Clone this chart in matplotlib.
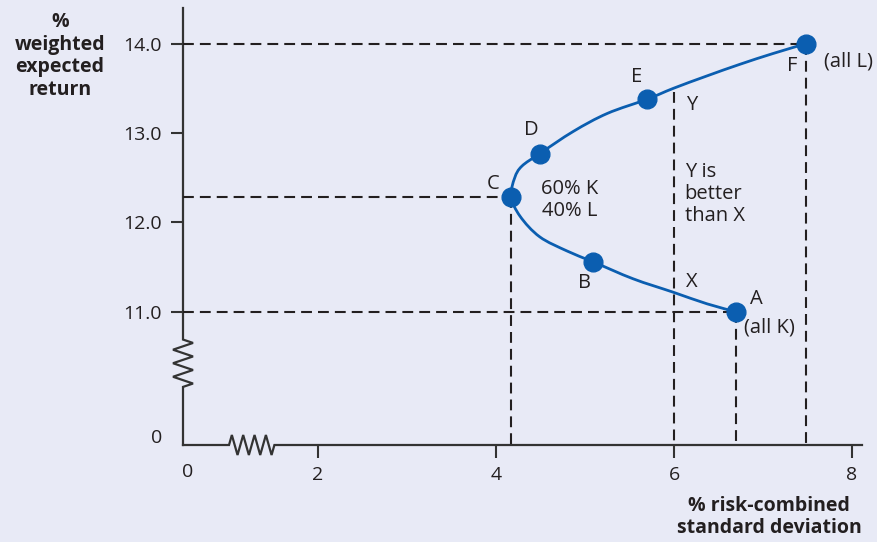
import matplotlib
matplotlib.use("Agg")
import matplotlib.pyplot as plt
from matplotlib.path import Path
from matplotlib.patches import PathPatch

# frontier, going from A (all K) round to F (all L)
curve_sd = [6.70, 6.37, 5.99, 5.54, 5.09, 4.80, 4.49, 4.27, 4.17, 4.21, 4.29,
            4.49, 4.87, 5.25, 5.70, 5.99, 6.37, 6.74, 7.11, 7.48]
curve_ret = [11.0, 11.09, 11.22, 11.37, 11.56, 11.68, 11.84, 12.07, 12.29, 12.50, 12.63,
             12.77, 13.02, 13.22, 13.38, 13.50, 13.64, 13.77, 13.89, 14.0]

point_names = ["A", "B", "C", "D", "E", "F"]
point_sd = [6.70, 5.09, 4.17, 4.49, 5.70, 7.48]
point_ret = [11.0, 11.56, 12.29, 12.77, 13.38, 14.0]

# the X / Y comparison at sd = 6
xy_sd = 6.0
y_ret = 13.46

x_ticks = [2, 4, 6, 8]
x_labels = ["2", "4", "6", "8"]
y_ticks = [11.0, 12.0, 13.0, 14.0]
y_labels = ["11.0", "12.0", "13.0", "14.0"]

BG = "#e8eaf6"
INK = "#231f20"
BLUE = "#0b5eb0"
FS = 14.5

plt.rcParams["font.family"] = ["Open Sans", "DejaVu Sans"]

fig = plt.figure(figsize=(8.78, 5.42), dpi=100, facecolor=BG)
W, H = 878, 542
# axes box in pixels: left 183, right 862, top 8, bottom 445
ax = fig.add_axes([183 / W, 1 - 445 / H, (862 - 183) / W, (445 - 8) / H])
ax.set_facecolor(BG)

x0, x1 = 0.483, 8.112   # broken axes: the corner is the fake "0"
y0, y1 = 9.51, 14.40
ax.set_xlim(x0, x1)
ax.set_ylim(y0, y1)
for s in ax.spines.values():
    s.set_visible(False)

ax.set_xticks(x_ticks)
ax.set_xticklabels(x_labels)
ax.set_yticks(y_ticks)
ax.set_yticklabels(y_labels)
ax.tick_params(length=9, width=1.5, color="#333333", labelsize=14,
               labelcolor=INK, pad=6)

# axis lines with the zigzag breaks
px_x = 1 / 89.0
px_y = 1 / 89.3
amp = 10


def zig_v(xc, ya, yb, n=7):
    xs, ys = [xc], [ya]
    for i in range(n):
        xs.append(xc + (amp if i % 2 == 0 else -amp) * px_x)
        ys.append(ya - (i + 0.5) * (ya - yb) / n)
    xs.append(xc)
    ys.append(yb)
    return xs, ys


def zig_h(yc, xa, xb, n=8):
    xs, ys = [xa], [yc]
    for i in range(n):
        xs.append(xa + (i + 0.5) * (xb - xa) / n)
        ys.append(yc + (amp if i % 2 == 0 else -amp) * px_y)
    xs.append(xb)
    ys.append(yc)
    return xs, ys


axis_kw = dict(color="#333333", lw=1.6, clip_on=False, solid_joinstyle="miter")
zx, zy = zig_v(x0, 10.69, 10.16)
ax.plot([x0, x0] + zx + [x0, x0], [y1, 10.69] + zy + [10.16, y0], **axis_kw)
hx, hy = zig_h(y0, 1.00, 1.51)
ax.plot([x0, 1.00] + hx + [1.51, x1], [y0, y0] + hy + [y0, y0], **axis_kw)

ax.text(x0 - 26 * px_x, y0 + 7 * px_y, "0", fontsize=14, color=INK,
        ha="center", va="center")
ax.text(x0 + 5 * px_x, y0 - 27 * px_y, "0", fontsize=14, color=INK,
        ha="center", va="center")

# dashed guides
dash = dict(color=INK, lw=1.5, dashes=(5.2, 2.9), zorder=2)
for name in ["A", "C", "F"]:
    i = point_names.index(name)
    ax.plot([x0, point_sd[i]], [point_ret[i], point_ret[i]], **dash)
    ax.plot([point_sd[i], point_sd[i]], [point_ret[i], y0], **dash)
ax.plot([xy_sd, xy_sd], [y_ret, y0], **dash)

# frontier: smooth bezier through the read points (catmull-rom handles)
pts = list(zip(curve_sd, curve_ret))
verts = [pts[0]]
codes = [Path.MOVETO]
for i in range(len(pts) - 1):
    p0 = pts[max(i - 1, 0)]
    p1 = pts[i]
    p2 = pts[i + 1]
    p3 = pts[min(i + 2, len(pts) - 1)]
    c1 = (p1[0] + (p2[0] - p0[0]) / 6, p1[1] + (p2[1] - p0[1]) / 6)
    c2 = (p2[0] - (p3[0] - p1[0]) / 6, p2[1] - (p3[1] - p1[1]) / 6)
    verts += [c1, c2, p2]
    codes += [Path.CURVE4] * 3
ax.add_patch(PathPatch(Path(verts, codes), facecolor="none", edgecolor=BLUE,
                       lw=2.0, zorder=3))
ax.plot(point_sd, point_ret, "o", color=BLUE, ms=13.5, zorder=4)

lab = dict(fontsize=FS, color=INK, ha="center", va="center")
ax.text(6.93, 11.14, "A", **lab)
ax.text(7.07, 10.82, "(all K)", **lab)
ax.text(4.99, 11.32, "B", **lab)
ax.text(3.97, 12.43, "C", **lab)
ax.text(4.40, 13.03, "D", **lab)
ax.text(5.58, 13.63, "E", **lab)
ax.text(7.33, 13.75, "F", **lab)
ax.text(7.96, 13.80, "(all L)", **lab)
ax.text(6.20, 13.32, "Y", **lab)
ax.text(6.20, 11.33, "X", **lab)
ax.text(4.83, 12.25, "60% K\n40% L", fontsize=FS, color=INK, ha="center",
        va="center", linespacing=1.15)
ax.text(6.12, 12.32, "Y is\nbetter\nthan X", fontsize=FS, color=INK, ha="left",
        va="center", linespacing=1.12)

fig.text(60 / W, 1 - 56 / H, "%\nweighted\nexpected\nreturn", fontsize=14,
         fontweight="bold", color=INK, ha="center", va="center", linespacing=1.18)
fig.text(769 / W, 1 - 517 / H, "% risk-combined\nstandard deviation", fontsize=14,
         fontweight="bold", color=INK, ha="center", va="center", linespacing=1.08)

fig.savefig("out.png", dpi=100, facecolor=BG)
